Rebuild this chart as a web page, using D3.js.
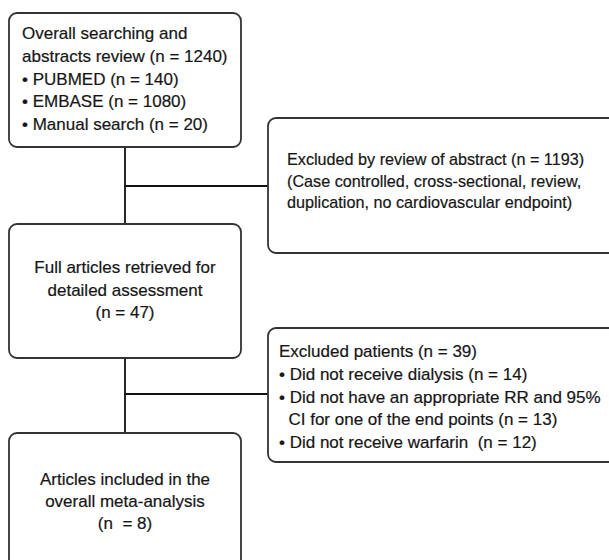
<!DOCTYPE html>
<html>
<head>
<meta charset="utf-8">
<script src="https://cdn.jsdelivr.net/npm/d3@7"></script>
<style>
  html, body { margin: 0; padding: 0; background: #fff; }
  svg text { font-family: "Liberation Sans", Arial, sans-serif; fill: #161616; stroke: #161616; stroke-width: 0.2px; }
</style>
</head>
<body>
<svg id="chart"></svg>
<script>
// text of each step in the flow
const searchLines = [
  "Overall searching and",
  "abstracts review (n = 1240)",
  "\u2022 PUBMED (n = 140)",
  "\u2022 EMBASE (n = 1080)",
  "\u2022 Manual search (n = 20)"
];
const abstractExclLines = [
  "Excluded by review of abstract (n = 1193)",
  "(Case controlled, cross-sectional, review,",
  "duplication, no cardiovascular endpoint)"
];
const fullTextLines = [
  "Full articles retrieved for",
  "detailed assessment",
  "(n = 47)"
];
const patientExclLines = [
  "Excluded patients (n = 39)",
  "\u2022 Did not receive dialysis (n = 14)",
  "\u2022 Did not have an appropriate RR and 95%",
  "  CI for one of the end points (n = 13)",
  "\u2022 Did not receive warfarin  (n = 12)"
];
const includedLines = [
  "Articles included in the",
  "overall meta-analysis",
  "(n  = 8)"
];

document.addEventListener('DOMContentLoaded', function() {
    const width = 609;
    const height = 560;

    const svg = d3.select("#chart")
        .attr("width", width)
        .attr("height", height);

    const stroke = "#333";
    const spineX = 125;

    // layout of the boxes
    const boxes = [
        { lines: searchLines,       x: 9,   y: 13,  w: 232, h: 134, align: "start",  tx: 22,  ty: 39,  size: 17,   lh: 22.8 },
        { lines: abstractExclLines, x: 268, y: 118, w: 360, h: 135, align: "start",  tx: 287, ty: 165, size: 16.2, lh: 21.5 },
        { lines: fullTextLines,     x: 9,   y: 224, w: 232, h: 134, align: "middle", tx: 125, ty: 273, size: 17,   lh: 22.5 },
        { lines: patientExclLines,  x: 268, y: 328, w: 360, h: 134, align: "start",  tx: 279, ty: 357, size: 17,   lh: 22.8 },
        { lines: includedLines,     x: 9,   y: 433, w: 232, h: 150, align: "middle", tx: 125, ty: 485, size: 17,   lh: 22 }
    ];

    // connectors
    const connectors = [
        [[spineX, 147], [spineX, 224]],
        [[spineX, 186], [268, 186]],
        [[spineX, 358], [spineX, 433]],
        [[spineX, 394], [268, 394]]
    ];

    const line = d3.line();
    svg.append("g")
        .selectAll("path")
        .data(connectors)
        .join("path")
        .attr("d", d => line(d))
        .attr("fill", "none")
        .attr("stroke", "#111")
        .attr("stroke-width", 1.8);

    const g = svg.append("g")
        .selectAll("g")
        .data(boxes)
        .join("g");

    g.append("rect")
        .attr("x", d => d.x)
        .attr("y", d => d.y)
        .attr("width", d => d.w)
        .attr("height", d => d.h)
        .attr("rx", 8)
        .attr("ry", 8)
        .attr("fill", "#fff")
        .attr("stroke", stroke)
        .attr("stroke-width", 1.8);

    g.each(function(d) {
        const t = d3.select(this).append("text")
            .attr("text-anchor", d.align)
            .attr("font-size", d.size)
            .style("white-space", "pre");
        d.lines.forEach((s, i) => {
            t.append("tspan")
                .attr("x", d.tx)
                .attr("y", d.ty + i * d.lh)
                .text(s);
        });
    });
});
</script>
</body>
</html>
